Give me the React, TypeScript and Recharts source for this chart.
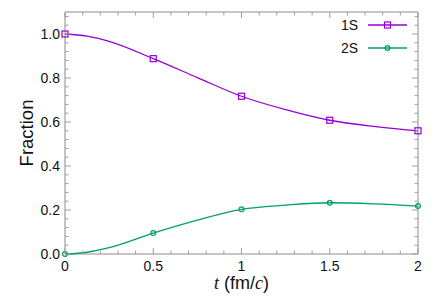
import React from 'react';
import { LineChart, Line, XAxis, YAxis, ReferenceArea, Legend, Label } from 'recharts';

// ---- data ----
const times = [0, 0.125, 0.25, 0.5, 0.75, 1, 1.25, 1.5, 1.75, 2];
const fraction1S = [1.0, 0.99, 0.966, 0.888, 0.802, 0.717, 0.656, 0.608, 0.58, 0.56];
const fraction2S = [0.0, 0.008, 0.029, 0.095, 0.154, 0.203, 0.222, 0.233, 0.228, 0.218];
const markerTimes = [0, 0.5, 1, 1.5, 2];
const seriesNames = ['1S', '2S'];

const xTicks = [0, 0.1, 0.2, 0.3, 0.4, 0.5, 0.6, 0.7, 0.8, 0.9, 1, 1.1, 1.2, 1.3, 1.4, 1.5, 1.6, 1.7, 1.8, 1.9, 2];
const xMajorTicks = [0, 0.5, 1, 1.5, 2];
const xTickLabels = ['0', '0.5', '1', '1.5', '2'];
const yTicks = [0, 0.04, 0.08, 0.12, 0.16, 0.2, 0.24, 0.28, 0.32, 0.36, 0.4, 0.44, 0.48, 0.52, 0.56, 0.6, 0.64, 0.68, 0.72, 0.76, 0.8, 0.84, 0.88, 0.92, 0.96, 1.0, 1.04, 1.08];
const yMajorTicks = [0, 0.2, 0.4, 0.6, 0.8, 1.0];
const yTickLabels = ['0.0', '0.2', '0.4', '0.6', '0.8', '1.0'];

const chartData = times.map((t, i) => ({ t, s1: fraction1S[i], s2: fraction2S[i] }));

// ---- layout / style ----
const W = 436;
const H = 299;
const MARGIN = { top: 12, right: 18, bottom: 15, left: 5 };
const Y_AXIS_W = 60;
const X_AXIS_H = 30;
const PLOT_LEFT = MARGIN.left + Y_AXIS_W;
const PLOT_RIGHT = W - MARGIN.right;
const PLOT_TOP = MARGIN.top;
const PLOT_BOTTOM = H - MARGIN.bottom - X_AXIS_H;

const FONT = '"Liberation Sans", Arial, Helvetica, sans-serif';
const COLOR_1S = '#9400d3';
const COLOR_2S = '#009e73';
const BORDER = '#8c8c8c';
const TICK = '#a0a0a0';
const MAJOR_LEN = 6;
const MINOR_LEN = 3.5;

const findMajor = (arr: number[], v: number) => arr.findIndex((m) => Math.abs(m - v) < 1e-9);

const XTick = (props: any) => {
  const { x, payload } = props;
  const v = payload.value;
  const mi = findMajor(xMajorTicks, v);
  const len = mi >= 0 ? MAJOR_LEN : MINOR_LEN;
  return (
    <g>
      <line x1={x} x2={x} y1={PLOT_BOTTOM} y2={PLOT_BOTTOM - len} stroke={TICK} strokeWidth={1} />
      <line x1={x} x2={x} y1={PLOT_TOP} y2={PLOT_TOP + len} stroke={TICK} strokeWidth={1} />
      {mi >= 0 && (
        <text x={x} y={PLOT_BOTTOM + 17} textAnchor="middle" fontSize={14} fontFamily={FONT} fill="#111">
          {xTickLabels[mi]}
        </text>
      )}
    </g>
  );
};

const YTick = (props: any) => {
  const { y, payload } = props;
  const v = payload.value;
  const mi = findMajor(yMajorTicks, v);
  const len = mi >= 0 ? MAJOR_LEN : MINOR_LEN;
  return (
    <g>
      <line x1={PLOT_LEFT} x2={PLOT_LEFT + len} y1={y} y2={y} stroke={TICK} strokeWidth={1} />
      <line x1={PLOT_RIGHT} x2={PLOT_RIGHT - len} y1={y} y2={y} stroke={TICK} strokeWidth={1} />
      {mi >= 0 && (
        <text x={PLOT_LEFT - 5} y={y + 5} textAnchor="end" fontSize={14} fontFamily={FONT} fill="#111">
          {yTickLabels[mi]}
        </text>
      )}
    </g>
  );
};

const SquareMarker = ({ cx, cy, color }: any) => (
  <rect x={cx - 3} y={cy - 3} width={6} height={6} fill="none" stroke={color} strokeWidth={1.2} />
);
const CircleMarker = ({ cx, cy, color }: any) => (
  <circle cx={cx} cy={cy} r={2.4} fill="none" stroke={color} strokeWidth={1.2} />
);

const isMarkerTime = (t: number) => markerTimes.some((m) => Math.abs(m - t) < 1e-9);

const makeDot = (kind: 'square' | 'circle', color: string) => (props: any) => {
  const { cx, cy, payload, index } = props;
  if (!isMarkerTime(payload.t)) return <g key={`n${index}`} />;
  return kind === 'square' ? (
    <SquareMarker key={`m${index}`} cx={cx} cy={cy} color={color} />
  ) : (
    <CircleMarker key={`m${index}`} cx={cx} cy={cy} color={color} />
  );
};

const LegendContent = () => {
  const rows = [
    { name: seriesNames[0], color: COLOR_1S, kind: 'square' },
    { name: seriesNames[1], color: COLOR_2S, kind: 'circle' },
  ];
  return (
    <svg width={90} height={46} style={{ display: 'block' }}>
      {rows.map((r, i) => {
        const yy = 11 + i * 23;
        return (
          <g key={r.name}>
            <text x={28} y={yy + 5} textAnchor="end" fontSize={14} fontFamily={FONT} fill="#111">
              {r.name}
            </text>
            <line x1={38} x2={77} y1={yy} y2={yy} stroke={r.color} strokeWidth={1.3} />
            {r.kind === 'square' ? (
              <SquareMarker cx={57.5} cy={yy} color={r.color} />
            ) : (
              <CircleMarker cx={57.5} cy={yy} color={r.color} />
            )}
          </g>
        );
      })}
    </svg>
  );
};

export default function App() {
  return (
    <div style={{ position: 'absolute', left: 0, top: 0, width: W, height: H, background: '#fff' }}>
      <LineChart width={W} height={H} data={chartData} margin={MARGIN}>
        <XAxis
          dataKey="t"
          type="number"
          domain={[0, 2]}
          ticks={xTicks}
          interval={0}
          tickLine={false}
          axisLine={false}
          tickSize={0}
          tickMargin={0}
          height={X_AXIS_H}
          tick={<XTick />}
        >
          <Label
            content={(p: any) => {
              const vb = p.viewBox || {};
              const cx = (vb.x ?? PLOT_LEFT) + (vb.width ?? PLOT_RIGHT - PLOT_LEFT) / 2;
              return (
                <text x={cx} y={PLOT_BOTTOM + 35} textAnchor="middle" fontSize={18} fontFamily={FONT} fill="#111">
                  <tspan fontFamily='"Liberation Serif", "Times New Roman", serif' fontStyle="italic">t</tspan>
                  <tspan> (fm/</tspan>
                  <tspan fontFamily='"Liberation Serif", "Times New Roman", serif' fontStyle="italic">c</tspan>
                  <tspan>)</tspan>
                </text>
              );
            }}
          />
        </XAxis>
        <YAxis
          type="number"
          domain={[0, 1.1]}
          ticks={yTicks}
          interval={0}
          tickLine={false}
          axisLine={false}
          tickSize={0}
          tickMargin={0}
          width={Y_AXIS_W}
          tick={<YTick />}
        >
          <Label
            content={() => {
              const cy = (PLOT_TOP + PLOT_BOTTOM) / 2;
              return (
                <text
                  x={33}
                  y={cy}
                  transform={`rotate(-90, 33, ${cy})`}
                  textAnchor="middle"
                  fontSize={18.5}
                  fontFamily={FONT}
                  fill="#111"
                >
                  Fraction
                </text>
              );
            }}
          />
        </YAxis>
        <ReferenceArea x1={0} x2={2} y1={0} y2={1.1} fill="none" stroke={BORDER} strokeWidth={1} ifOverflow="visible" />
        <Line
          type="monotone"
          dataKey="s1"
          name={seriesNames[0]}
          stroke={COLOR_1S}
          strokeWidth={1.3}
          dot={makeDot('square', COLOR_1S)}
          activeDot={false}
          isAnimationActive={false}
        />
        <Line
          type="monotone"
          dataKey="s2"
          name={seriesNames[1]}
          stroke={COLOR_2S}
          strokeWidth={1.3}
          dot={makeDot('circle', COLOR_2S)}
          activeDot={false}
          isAnimationActive={false}
        />
        <Legend
          layout="vertical"
          align="center"
          verticalAlign="middle"
          content={<LegendContent />}
          wrapperStyle={{ position: 'absolute', left: 330, top: 14, width: 90, height: 46 }}
        />
      </LineChart>
    </div>
  );
}
